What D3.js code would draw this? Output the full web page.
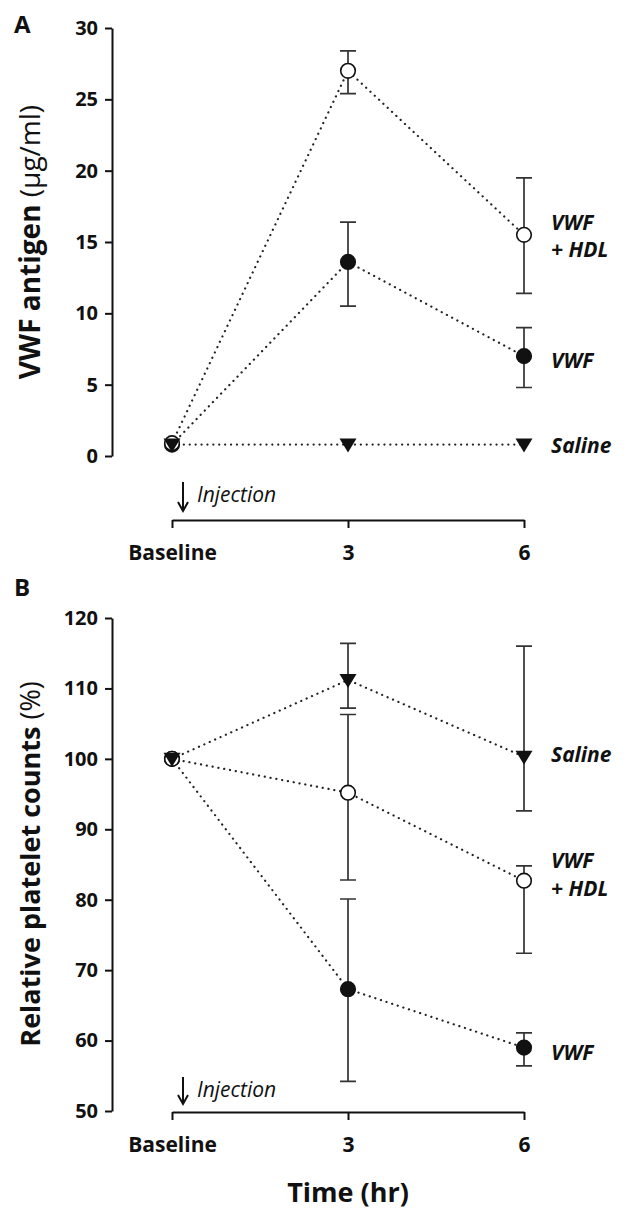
<!DOCTYPE html>
<html><head><meta charset="utf-8">
<script src="https://cdn.jsdelivr.net/npm/d3@7"></script>
<style>
body{margin:0;background:#fff;}
text{font-family:"Open Sans",sans-serif;}
</style></head>
<body><svg id="c" width="624" height="1212"></svg>
<script>
// ---------- data ----------
const times = [0, 3, 6];
const timeLabels = ["Baseline", "3", "6"];

// Panel A: VWF antigen (µg/ml)
const aTicks = [0, 5, 10, 15, 20, 25, 30];
const aVWFHDL = [0.9, 27.0, 15.5];
const aVWFHDLLo = [0.9, 25.4, 11.4];
const aVWFHDLHi = [0.9, 28.4, 19.5];
const aVWF = [0.8, 13.6, 7.0];
const aVWFLo = [0.8, 10.5, 4.8];
const aVWFHi = [0.8, 16.4, 9.0];
const aSaline = [0.8, 0.8, 0.8];

// Panel B: Relative platelet counts (%)
const bTicks = [50, 60, 70, 80, 90, 100, 110, 120];
const bSaline = [100, 111.2, 100.3];
const bSalineLo = [100, 107.2, 92.6];
const bSalineHi = [100, 116.4, 116.0];
const bVWFHDL = [100, 95.2, 82.7];
const bVWFHDLLo = [100, 82.8, 72.4];
const bVWFHDLHi = [100, 106.3, 84.8];
const bVWF = [100, 67.3, 59.0];
const bVWFLo = [100, 54.2, 56.4];
const bVWFHi = [100, 80.1, 61.1];

// ---------- drawing ----------
const svg = d3.select("#c");
const x = d3.scaleLinear().domain([0, 6]).range([172, 524]);

function series(vals, lo, hi, type) {
  return vals.map((v, i) => ({t: times[i], v, lo: lo ? lo[i] : null, hi: hi ? hi[i] : null, type}));
}

function panel(opts) {
  const g = svg.append("g");
  const y = d3.scaleLinear().domain(opts.domain).range(opts.range);
  // y axis
  const ya = g.append("g").attr("transform", "translate(112,0)")
    .call(d3.axisLeft(y).tickValues(opts.ticks).tickSize(7).tickSizeOuter(0).tickPadding(7));
  ya.select(".domain").attr("stroke", "#111").attr("stroke-width", 2);
  ya.selectAll(".tick line").attr("stroke", "#111").attr("stroke-width", 2);
  ya.selectAll(".tick text").attr("font-size", 20).attr("font-weight", 700).attr("fill", "#111")
    .attr("font-family", "'Open Sans',sans-serif");
  // x axis
  const xa = g.append("g").attr("transform", `translate(0,${opts.xAxisY})`)
    .call(d3.axisBottom(x).tickValues(times).tickFormat((d, i) => timeLabels[i]).tickSize(8).tickSizeOuter(0).tickPadding(17));
  xa.select(".domain").attr("stroke", "#111").attr("stroke-width", 2);
  xa.selectAll(".tick line").attr("stroke", "#111").attr("stroke-width", 2);
  xa.selectAll(".tick text").attr("font-size", 21).attr("font-weight", 700).attr("fill", "#111")
    .attr("font-family", "'Open Sans',sans-serif");

  // y title
  const tt = g.append("text").attr("transform", `translate(${opts.titleX},${opts.titleY}) rotate(-90)`)
    .attr("text-anchor", "middle").attr("fill", "#111").attr("font-size", opts.titleSize);
  tt.append("tspan").attr("font-weight", 700).text(opts.titleBold);
  tt.append("tspan").attr("font-weight", 400).text(opts.titleNormal);

  // panel letter
  g.append("text").attr("x", 14).attr("y", opts.letterY).attr("font-size", 24).attr("font-weight", 700)
    .attr("fill", "#111").text(opts.letter);

  // injection arrow
  const ax = 183;
  g.append("path").attr("d", `M${ax},${opts.arrowY0}V${opts.arrowY1}M${ax - 5},${opts.arrowY1 - 9}L${ax},${opts.arrowY1}L${ax + 5},${opts.arrowY1 - 9}`)
    .attr("fill", "none").attr("stroke", "#111").attr("stroke-width", 2);
  g.append("text").attr("x", 197).attr("y", opts.injY).attr("font-size", 21).attr("font-style", "italic")
    .attr("fill", "#111").text("Injection");

  const line = d3.line().x(d => x(d.t)).y(d => y(d.v));
  // dotted lines
  opts.series.forEach(s => {
    g.append("path").datum(s).attr("d", line).attr("fill", "none").attr("stroke", "#222")
      .attr("stroke-width", 2.2).attr("stroke-dasharray", "0.1,5.8").attr("stroke-linecap", "round");
  });
  // error bars
  opts.series.forEach(s => {
    s.filter(d => d.lo !== null && d.hi !== null && d.hi - d.lo > 0.01).forEach(d => {
      const cx = x(d.t);
      g.append("path").attr("d", `M${cx},${y(d.lo)}V${y(d.hi)}M${cx - 8},${y(d.lo)}H${cx + 8}M${cx - 8},${y(d.hi)}H${cx + 8}`)
        .attr("fill", "none").attr("stroke", "#333").attr("stroke-width", 1.7);
    });
  });
  // markers
  opts.series.forEach(s => {
    s.forEach(d => {
      const cx = x(d.t), cy = y(d.v);
      if (d.type === "tri") {
        g.append("path").attr("d", `M${cx - 8.5},${cy - 6}L${cx + 8.5},${cy - 6}L${cx},${cy + 8}Z`).attr("fill", "#111");
      } else {
        g.append("circle").attr("cx", cx).attr("cy", cy).attr("r", 7.3)
          .attr("fill", d.type === "open" ? "#fff" : "#111").attr("stroke", "#111").attr("stroke-width", 1.6);
      }
    });
  });
  // series labels
  opts.labels.forEach(l => {
    g.append("text").attr("x", 551).attr("y", l.y).attr("font-size", 21).attr("font-weight", 700)
      .attr("font-style", "italic").attr("fill", "#111").text(l.text);
  });
}

panel({
  domain: [0, 30], range: [456, 28], ticks: aTicks, xAxisY: 520,
  titleX: 40, titleY: 242, titleSize: 28, titleBold: "VWF antigen", titleNormal: " (\u00b5g/ml)",
  letter: "A", letterY: 33, arrowY0: 482, arrowY1: 511, injY: 502,
  series: [
    series(aVWF, aVWFLo, aVWFHi, "filled"),
    series(aVWFHDL, aVWFHDLLo, aVWFHDLHi, "open"),
    series(aSaline, null, null, "tri")
  ],
  labels: [{text: "VWF", y: 230}, {text: "+ HDL", y: 257}, {text: "VWF", y: 368}, {text: "Saline", y: 453}]
});

panel({
  domain: [50, 120], range: [1111, 618], ticks: bTicks, xAxisY: 1112,
  titleX: 40, titleY: 864, titleSize: 27, titleBold: "Relative platelet counts", titleNormal: " (%)",
  letter: "B", letterY: 596, arrowY0: 1077, arrowY1: 1104, injY: 1097,
  series: [
    series(bVWF, bVWFLo, bVWFHi, "filled"),
    series(bVWFHDL, bVWFHDLLo, bVWFHDLHi, "open"),
    series(bSaline, bSalineLo, bSalineHi, "tri")
  ],
  labels: [{text: "Saline", y: 762}, {text: "VWF", y: 868}, {text: "+ HDL", y: 896}, {text: "VWF", y: 1060}]
});

svg.append("text").attr("x", 348).attr("y", 1202).attr("text-anchor", "middle").attr("font-size", 27)
  .attr("font-weight", 700).attr("fill", "#111").text("Time (hr)");
</script></body></html>
